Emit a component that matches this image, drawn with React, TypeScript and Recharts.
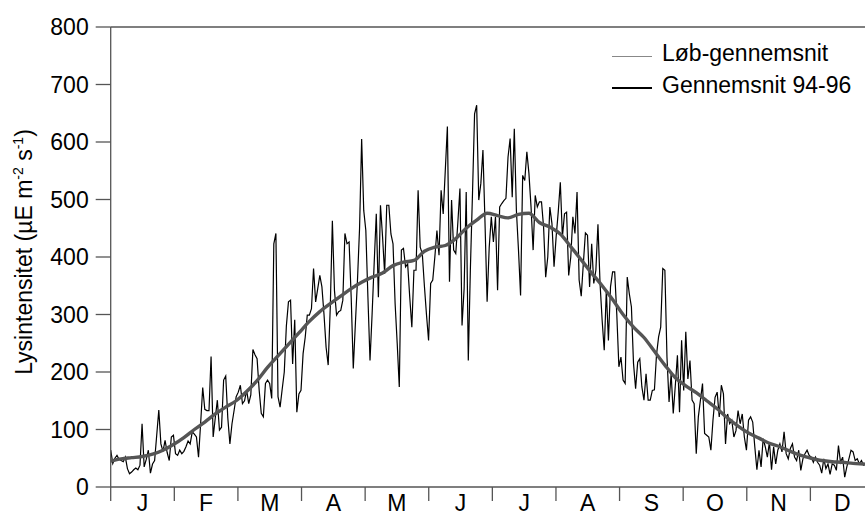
import { LineChart, Line, XAxis, YAxis, ReferenceLine } from 'recharts';

// daily light intensity, day 0..364
const dailyLight = [
  64, 41, 50, 55, 48, 46, 44, 52, 32, 23,
  26, 30, 33, 30, 38, 110, 35, 48, 64, 24,
  40, 46, 90, 134, 75, 62, 81, 60, 46, 87,
  90, 58, 55, 64, 58, 62, 70, 80, 75, 96,
  92, 87, 52, 110, 173, 135, 133, 133, 227, 87,
  120, 151, 99, 104, 186, 193, 120, 75, 110, 133,
  157, 165, 177, 145, 150, 168, 145, 160, 239, 230,
  223, 168, 128, 122, 180, 186, 180, 154, 423, 441,
  157, 139, 170, 200, 280, 322, 325, 214, 291, 130,
  162, 168, 232, 260, 299, 299, 310, 380, 322, 345,
  368, 348, 300, 243, 212, 313, 463, 342, 299, 305,
  307, 325, 441, 423, 426, 330, 206, 284, 359, 450,
  605, 481, 446, 330, 220, 301, 390, 475, 330, 490,
  435, 371, 490, 490, 440, 423, 319, 250, 174, 412,
  415, 383, 388, 330, 278, 377, 377, 516, 417, 406,
  350, 300, 255, 354, 360, 400, 446, 403, 516, 475,
  551, 627, 357, 499, 412, 406, 460, 519, 281, 345,
  513, 220, 380, 510, 649, 664, 499, 528, 586, 458,
  322, 417, 470, 426, 470, 342, 487, 493, 498, 502,
  574, 606, 504, 623, 481, 412, 333, 542, 533, 583,
  545, 487, 412, 507, 487, 496, 496, 452, 365, 400,
  487, 458, 383, 435, 478, 530, 435, 475, 478, 368,
  400, 470, 441, 513, 360, 332, 388, 442, 438, 348,
  423, 354, 377, 457, 354, 290, 238, 342, 255, 348,
  374, 374, 301, 209, 226, 186, 180, 365, 336, 313,
  215, 171, 217, 223, 174, 151, 197, 151, 151, 168,
  169, 230, 261, 278, 380, 377, 226, 148, 197, 128,
  177, 229, 130, 255, 168, 270, 188, 220, 151, 145,
  58, 122, 151, 180, 93, 90, 87, 64, 116, 156,
  165, 122, 177, 162, 75, 127, 110, 116, 87, 98,
  133, 110, 127, 87, 64, 116, 122, 113, 70, 30,
  64, 35, 84, 70, 52, 78, 30, 70, 40, 64,
  75, 61, 96, 58, 49, 67, 75, 52, 46, 64,
  29, 49, 58, 64, 55, 52, 43, 52, 43, 38,
  24, 49, 32, 40, 22, 40, 38, 29, 72, 43,
  52, 17, 35, 49, 64, 61, 46, 49, 40, 46,
  38, 40, 35, 38, 36,
];

// 94-96 average, every 5th day from day 0 to 365
const averageLight = [
  45, 49, 51, 53, 57, 64, 74, 86, 100, 113,
  127, 139, 150, 166, 185, 208, 228, 248, 268, 288,
  305, 319, 332, 345, 356, 365, 372, 385, 391, 394,
  410, 417, 420, 432, 450, 464, 476, 472, 468, 474,
  476, 460, 452, 440, 418, 395, 372, 350, 326, 300,
  278, 260, 236, 212, 190, 176, 164, 150, 136, 120,
  106, 94, 85, 76, 70, 62, 55, 50, 46, 44,
  43, 41, 40, 39,
];

const monthLabels = ['J', 'F', 'M', 'A', 'M', 'J', 'J', 'A', 'S', 'O', 'N', 'D'];
const monthTicks = [0, 30.42, 60.83, 91.25, 121.67, 152.08, 182.5, 212.92, 243.33, 273.75, 304.17, 334.58, 365];
const yTicks = [0, 100, 200, 300, 400, 500, 600, 700, 800];

const dailyData = dailyLight.map((v, i) => ({ day: i, value: v }));
const averageData = averageLight.map((v, i) => ({ day: i * 5, value: v }));

const FONT = '"Liberation Sans", Arial, Helvetica, sans-serif';
const AXIS = '#555';
const W = 900;
const H = 540;
const Y_AXIS_W = 110.7;
const RIGHT = 26;
const HALF_MONTH = (W - Y_AXIS_W - RIGHT) / 24;

function MonthTick(props: any) {
  const { x, y, index } = props;
  if (index >= monthLabels.length) return <g />;
  return (
    <text x={x + HALF_MONTH} y={y - 8} dy="0.71em" textAnchor="middle" fontSize={23} fontFamily={FONT} fill="#000">
      {monthLabels[index]}
    </text>
  );
}

function YLabel() {
  return (
    <text x={32} y={252} transform="rotate(-90, 32, 252)" textAnchor="middle" fontSize={23} fontFamily={FONT} fill="#000">
      Lysintensitet (µE m
      <tspan dy={-9} fontSize={14}>-2</tspan>
      <tspan dy={9}> s</tspan>
      <tspan dy={-9} fontSize={14}>-1</tspan>
      <tspan dy={9}>)</tspan>
    </text>
  );
}

const legendRow = (top: number, color: string, width: number, text: string) => (
  <div style={{ position: 'absolute', left: 612, top, height: 32, display: 'flex', alignItems: 'center' }}>
    <span style={{ display: 'inline-block', width: 40, borderTop: `${width}px solid ${color}`, marginTop: 6 }} />
    <span style={{ marginLeft: 10, fontSize: 23, fontFamily: FONT, color: '#000', whiteSpace: 'nowrap' }}>{text}</span>
  </div>
);

export default function App() {
  return (
    <div style={{ position: 'absolute', left: 0, top: 0, width: 865, height: 511, overflow: 'hidden', background: '#fff' }}>
      <LineChart width={W} height={H} margin={{ top: 27, right: RIGHT, bottom: 0, left: 0 }}>
        <XAxis
          type="number"
          dataKey="day"
          domain={[0, 365]}
          ticks={monthTicks}
          interval={0}
          height={53}
          tickSize={14}
          tickMargin={2}
          tick={<MonthTick />}
          axisLine={{ stroke: AXIS, strokeWidth: 1.3 }}
          tickLine={{ stroke: AXIS, strokeWidth: 1.3 }}
          allowDataOverflow
        />
        <YAxis
          type="number"
          domain={[0, 800]}
          ticks={yTicks}
          interval={0}
          width={Y_AXIS_W}
          tickSize={15}
          tickMargin={7}
          tick={{ fontSize: 23, fontFamily: FONT, fill: '#000' }}
          axisLine={{ stroke: AXIS, strokeWidth: 1.3 }}
          tickLine={{ stroke: AXIS, strokeWidth: 1.3 }}
          label={<YLabel />}
        />
        <ReferenceLine y={800} stroke={AXIS} strokeWidth={1.3} />
        <Line
          data={dailyData}
          dataKey="value"
          type="linear"
          stroke="#000"
          strokeWidth={1.2}
          dot={false}
          isAnimationActive={false}
        />
        <Line
          data={averageData}
          dataKey="value"
          type="monotone"
          stroke="#555"
          strokeWidth={3.4}
          dot={false}
          isAnimationActive={false}
        />
      </LineChart>
      {legendRow(37, '#888', 1.5, 'Løb-gennemsnit')}
      {legendRow(69, '#000', 2.6, 'Gennemsnit 94-96')}
    </div>
  );
}
